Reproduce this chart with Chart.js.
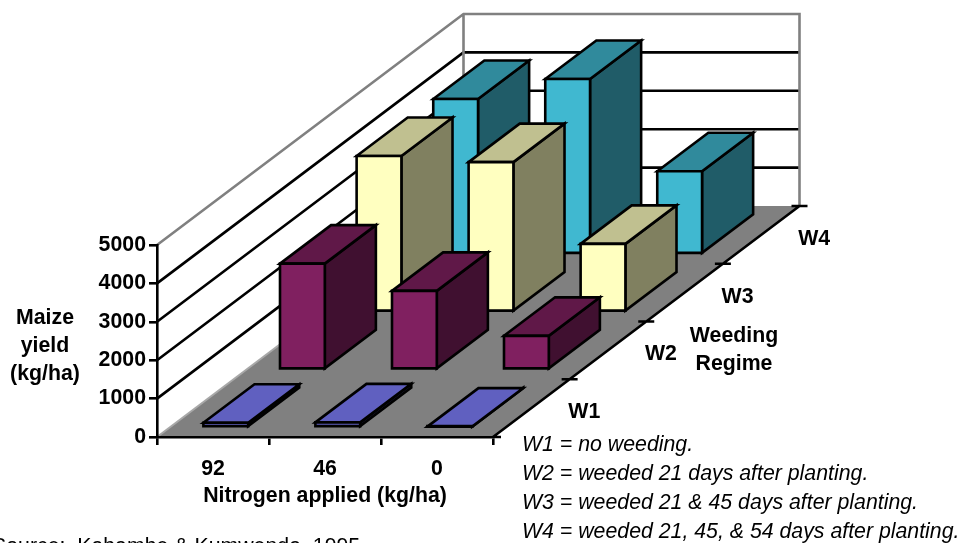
<!DOCTYPE html>
<html>
<head>
<meta charset="utf-8">
<script src="https://cdn.jsdelivr.net/npm/chart.js@4"></script>
<style>
  html, body { margin: 0; padding: 0; background: #fff; overflow: hidden; }
  canvas { display: block; }
</style>
</head>
<body>
<canvas id="maizeChart" width="957" height="543"></canvas>
<script>
// values
const nitrogen = ['92', '46', '0'];
const regimes = ['W1', 'W2', 'W3', 'W4'];
const w1 = [120, 130, 20];
const w2 = [2760, 2050, 880];
const w3 = [4060, 3900, 1770];
const w4 = [4040, 4560, 2160];
const notes = [
  'W1 = no weeding.',
  'W2 = weeded 21 days after planting.',
  'W3 = weeded 21 & 45 days after planting.',
  'W4 = weeded 21, 45, & 54 days after planting.'
];

// front, top, side colours of each series
const colors = [
  ['#6060c0', '#6060c0', '#30305f'],
  ['#802060', '#601848', '#401030'],
  ['#ffffc0', '#c0c090', '#808060'],
  ['#40b8d0', '#308a9c', '#205c68']
];

// the depth axis: chart runs 306.5px right and 231px up from front to back
const depthX = 306.5;
const depthY = -231;
const rowX = depthX / regimes.length;
const rowY = depthY / regimes.length;
const gapDepth = 1 / 6;

const FONT = '"Liberation Sans", Arial, sans-serif';
const FONT_SIZE = 21.3;
Chart.defaults.font.family = FONT;
Chart.defaults.font.size = FONT_SIZE;
Chart.defaults.color = '#000';

function poly(ctx, pts, fill) {
  ctx.beginPath();
  pts.forEach((p, i) => i ? ctx.lineTo(p[0], p[1]) : ctx.moveTo(p[0], p[1]));
  ctx.closePath();
  ctx.fillStyle = fill;
  ctx.fill();
  ctx.stroke();
}

// bar chart whose bars are drawn as boxes, pushed back by their dataset index
class Bar3DController extends Chart.BarController {
  draw() {
    const ctx = this.chart.ctx;
    const row = this.index;
    const c = colors[row];
    const ox = (row + gapDepth) * rowX;
    const oy = (row + gapDepth) * rowY;
    const dx = rowX * (1 - 2 * gapDepth);
    const dy = rowY * (1 - 2 * gapDepth);
    ctx.save();
    ctx.strokeStyle = '#000';
    ctx.lineWidth = 2.6;
    ctx.lineJoin = 'miter';
    this._cachedMeta.data.forEach(bar => {
      const l = bar.x - bar.width / 2 + ox;
      const r = bar.x + bar.width / 2 + ox;
      const t = bar.y + oy;
      const b = bar.base + oy;
      poly(ctx, [[r, t], [r + dx, t + dy], [r + dx, b + dy], [r, b]], c[2]);
      poly(ctx, [[l, t], [l + dx, t + dy], [r + dx, t + dy], [r, t]], c[1]);
      poly(ctx, [[l, t], [r, t], [r, b], [l, b]], c[0]);
    });
    ctx.restore();
  }
}
Bar3DController.id = 'bar3d';
Bar3DController.defaults = Chart.BarController.defaults;
Bar3DController.overrides = Chart.BarController.overrides;
Chart.register(Bar3DController);

// walls, floor and the depth axis
const roomPlugin = {
  id: 'room',
  beforeDraw(chart) {
    const ctx = chart.ctx;
    const x = chart.scales.x;
    const y = chart.scales.y;
    const x0 = x.left;
    const x1 = x.right;
    const y0 = y.getPixelForValue(0);
    const yTop = y.getPixelForValue(5000);
    ctx.save();

    ctx.fillStyle = '#808080';
    ctx.beginPath();
    ctx.moveTo(x0, y0);
    ctx.lineTo(x1, y0);
    ctx.lineTo(x1 + depthX, y0 + depthY);
    ctx.lineTo(x0 + depthX, y0 + depthY);
    ctx.closePath();
    ctx.fill();

    ctx.lineWidth = 2.6;
    y.ticks.forEach(tick => {
      if (tick.value === 0 || tick.value === 5000) return;
      const py = y.getPixelForValue(tick.value);
      ctx.strokeStyle = '#000';
      ctx.beginPath();
      ctx.moveTo(x0, py);
      ctx.lineTo(x0 + depthX, py + depthY);
      ctx.lineTo(x1 + depthX, py + depthY);
      ctx.stroke();
    });

    ctx.strokeStyle = '#808080';
    ctx.beginPath();
    ctx.moveTo(x0, yTop);
    ctx.lineTo(x0 + depthX, yTop + depthY);
    ctx.lineTo(x1 + depthX, yTop + depthY);
    ctx.lineTo(x1 + depthX, y0 + depthY);
    ctx.moveTo(x0 + depthX, yTop + depthY);
    ctx.lineTo(x0 + depthX, y0 + depthY);
    ctx.stroke();

    ctx.strokeStyle = '#a8a8a8';
    ctx.lineWidth = 2;
    ctx.beginPath();
    ctx.moveTo(x0, y0);
    ctx.lineTo(x0 + depthX, y0 + depthY);
    ctx.stroke();
    ctx.restore();
  },
  afterDraw(chart) {
    const ctx = chart.ctx;
    const x1 = chart.scales.x.right;
    const y0 = chart.scales.y.getPixelForValue(0);
    ctx.save();
    ctx.strokeStyle = '#000';
    ctx.lineWidth = 2.6;
    ctx.beginPath();
    ctx.moveTo(x1, y0);
    ctx.lineTo(x1 + depthX, y0 + depthY);
    for (let i = 0; i <= regimes.length; i++) {
      const px = x1 + i * rowX;
      const py = y0 + i * rowY;
      ctx.moveTo(i ? px - 8 : px, py);
      ctx.lineTo(px + 8, py);
    }
    ctx.stroke();

    ctx.fillStyle = '#000';
    ctx.textBaseline = 'alphabetic';
    ctx.textAlign = 'center';
    ctx.font = 'bold ' + FONT_SIZE + 'px ' + FONT;
    regimes.forEach((name, i) => {
      ctx.fillText(name, x1 + (i + 0.5) * rowX + 53, y0 + (i + 0.5) * rowY + 10);
    });
    ctx.fillText('Weeding', 734, 342);
    ctx.fillText('Regime', 734, 370);
    ctx.fillText('Maize', 45, 324);
    ctx.fillText('yield', 45, 352);
    ctx.fillText('(kg/ha)', 45, 380);

    ctx.textAlign = 'left';
    ctx.font = 'italic ' + FONT_SIZE + 'px ' + FONT;
    notes.forEach((line, i) => ctx.fillText(line, 522, 451 + i * 29));
    ctx.font = FONT_SIZE + 'px ' + FONT;
    ctx.fillText('Source:  Kabambe & Kumwenda, 1995', -8, 553);
    ctx.restore();
  }
};

new Chart(document.getElementById('maizeChart'), {
  type: 'bar3d',
  data: {
    labels: nitrogen,
    datasets: [w1, w2, w3, w4].map((values, i) => ({
      label: regimes[i],
      data: values,
      grouped: false,
      categoryPercentage: 1,
      barPercentage: 0.4,
      clip: false
    }))
  },
  plugins: [roomPlugin],
  options: {
    responsive: false,
    animation: false,
    layout: { padding: { top: 245, right: 464, left: 0, bottom: 0 } },
    plugins: { legend: { display: false }, tooltip: { enabled: false } },
    scales: {
      x: {
        afterFit(scale) { scale.height = 106; },
        border: { color: '#000', width: 2.6 },
        grid: { drawOnChartArea: false, color: '#000', lineWidth: 2.6, tickLength: 8 },
        ticks: { padding: 11, maxRotation: 0, font: { weight: 'bold', size: FONT_SIZE } },
        title: {
          display: true,
          text: 'Nitrogen applied (kg/ha)',
          font: { weight: 'bold', size: FONT_SIZE },
          padding: { top: 0, bottom: 34 }
        }
      },
      y: {
        min: 0,
        max: 5000,
        afterFit(scale) { scale.width = 157; },
        border: { color: '#000', width: 2.6 },
        grid: { drawOnChartArea: false, color: '#000', lineWidth: 2.6, tickLength: 8 },
        ticks: {
          stepSize: 1000,
          padding: 3,
          font: { weight: 'bold', size: FONT_SIZE },
          callback: value => String(value)
        }
      }
    }
  }
});
</script>
</body>
</html>
